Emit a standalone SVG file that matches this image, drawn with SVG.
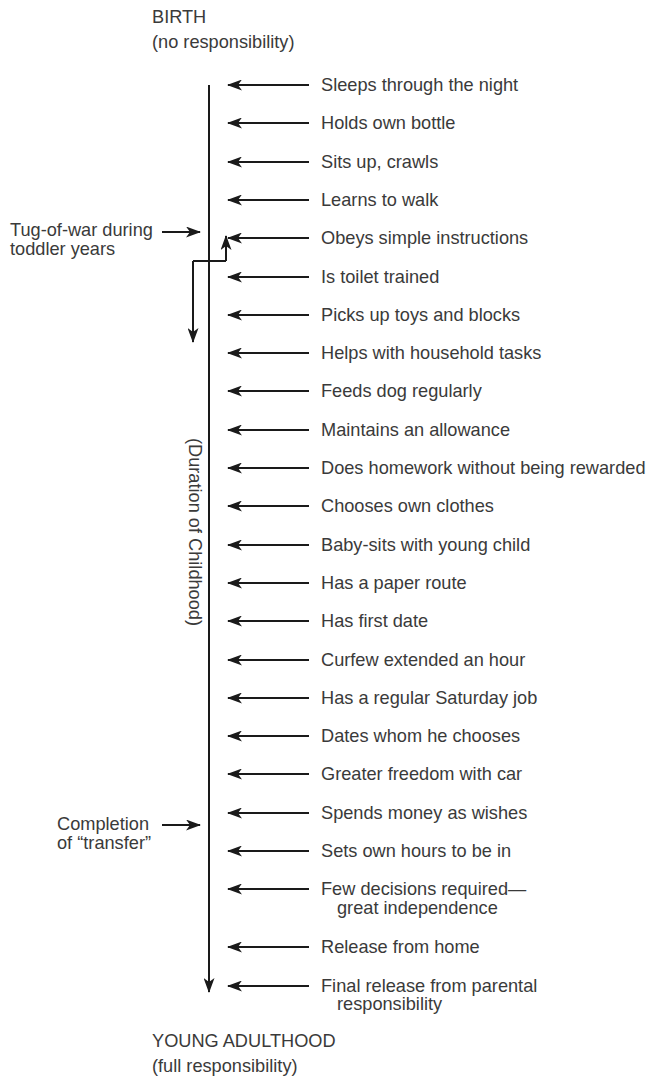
<svg xmlns="http://www.w3.org/2000/svg" width="652" height="1081" viewBox="0 0 652 1081">
<defs>
<marker id="ah" viewBox="0 0 15 11" refX="14" refY="5.5" markerWidth="15" markerHeight="11" markerUnits="userSpaceOnUse" orient="auto">
<path d="M0,0 L15,5.5 L0,11 L4,5.5 Z" fill="#1a1a1a"/>
</marker>
</defs>
<style>
text{font-family:"Liberation Sans",Arial,sans-serif;font-size:18.2px;fill:#3a3a3a}
.c{stroke:#1a1a1a;stroke-width:2;fill:none}
.a{marker-end:url(#ah)}
</style>
<rect width="652" height="1081" fill="#fff"/>
<g id="birth"><text x="152" y="23">BIRTH</text><text x="152" y="48">(no responsibility)</text></g>
<g id="adult"><text x="152" y="1047">YOUNG ADULTHOOD</text><text x="152" y="1072">(full responsibility)</text></g>
<g id="tug"><text x="10" y="236">Tug-of-war during</text><text x="10" y="255">toddler years</text></g>
<g id="completion"><text x="57" y="830">Completion</text><text x="57" y="849">of “transfer”</text></g>
<g id="duration"><text transform="translate(189,532) rotate(90)" text-anchor="middle">(Duration of Childhood)</text></g>
<g id="connectors">
<path class="c a" d="M209,85 V992"/>
<path class="c a" d="M162,232 H200"/>
<path class="c a" d="M162,825 H200"/>
<path class="c" d="M226,261 H193"/>
<path class="c a" d="M226,261 V236"/>
<path class="c a" d="M193,261 V342"/>
<path class="c a" d="M309,85 H228"/>
<path class="c a" d="M309,123 H228"/>
<path class="c a" d="M309,162 H228"/>
<path class="c a" d="M309,200 H228"/>
<path class="c a" d="M309,238 H228"/>
<path class="c a" d="M309,277 H228"/>
<path class="c a" d="M309,315 H228"/>
<path class="c a" d="M309,353 H228"/>
<path class="c a" d="M309,391 H228"/>
<path class="c a" d="M309,430 H228"/>
<path class="c a" d="M309,468 H228"/>
<path class="c a" d="M309,506 H228"/>
<path class="c a" d="M309,545 H228"/>
<path class="c a" d="M309,583 H228"/>
<path class="c a" d="M309,621 H228"/>
<path class="c a" d="M309,660 H228"/>
<path class="c a" d="M309,698 H228"/>
<path class="c a" d="M309,736 H228"/>
<path class="c a" d="M309,774 H228"/>
<path class="c a" d="M309,813 H228"/>
<path class="c a" d="M309,851 H228"/>
<path class="c a" d="M309,889 H228"/>
<path class="c a" d="M309,947 H228"/>
<path class="c a" d="M309,986 H228"/>
</g>
<g id="n0"><text x="321" y="91">Sleeps through the night</text></g>
<g id="n1"><text x="321" y="129">Holds own bottle</text></g>
<g id="n2"><text x="321" y="168">Sits up, crawls</text></g>
<g id="n3"><text x="321" y="206">Learns to walk</text></g>
<g id="n4"><text x="321" y="244">Obeys simple instructions</text></g>
<g id="n5"><text x="321" y="283">Is toilet trained</text></g>
<g id="n6"><text x="321" y="321">Picks up toys and blocks</text></g>
<g id="n7"><text x="321" y="359">Helps with household tasks</text></g>
<g id="n8"><text x="321" y="397">Feeds dog regularly</text></g>
<g id="n9"><text x="321" y="436">Maintains an allowance</text></g>
<g id="n10"><text x="321" y="474">Does homework without being rewarded</text></g>
<g id="n11"><text x="321" y="512">Chooses own clothes</text></g>
<g id="n12"><text x="321" y="551">Baby-sits with young child</text></g>
<g id="n13"><text x="321" y="589">Has a paper route</text></g>
<g id="n14"><text x="321" y="627">Has first date</text></g>
<g id="n15"><text x="321" y="666">Curfew extended an hour</text></g>
<g id="n16"><text x="321" y="704">Has a regular Saturday job</text></g>
<g id="n17"><text x="321" y="742">Dates whom he chooses</text></g>
<g id="n18"><text x="321" y="780">Greater freedom with car</text></g>
<g id="n19"><text x="321" y="819">Spends money as wishes</text></g>
<g id="n20"><text x="321" y="857">Sets own hours to be in</text></g>
<g id="n21"><text x="321" y="895">Few decisions required—</text><text x="337" y="914">great independence</text></g>
<g id="n22"><text x="321" y="953">Release from home</text></g>
<g id="n23"><text x="321" y="992">Final release from parental</text><text x="337" y="1010">responsibility</text></g>
</svg>
